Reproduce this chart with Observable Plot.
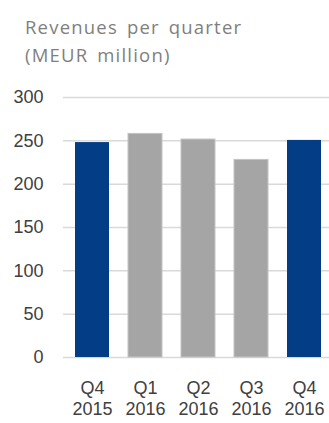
<!DOCTYPE html>
<html>
<head>
<meta charset="utf-8">
<script src="https://cdn.jsdelivr.net/npm/d3@7"></script>
<script src="https://cdn.jsdelivr.net/npm/@observablehq/plot@0.6"></script>
<style>
  html, body { margin: 0; padding: 0; background: #fff; }
  #wrap { width: 329px; height: 423px; position: relative; overflow: hidden; font-family: "Open Sans", sans-serif; }
  #title { position: absolute; left: 25px; top: 13px; font-size: 18.5px; line-height: 28px; color: #7f7f7f; letter-spacing: 1.2px; word-spacing: 3px; white-space: nowrap; }
  #chart { position: absolute; left: 0; top: 75px; }
</style>
</head>
<body>
<div id="wrap">
  <div id="title">Revenues per quarter<br>(MEUR million)</div>
  <div id="chart"></div>
</div>
<script>
const quarters = ["Q4", "Q1", "Q2", "Q3", "Q4"];
const years = ["2015", "2016", "2016", "2016", "2016"];
const revenues = [248, 258, 251.5, 228, 250.5];
const highlighted = [true, false, false, false, true];
const yTicks = [0, 50, 100, 150, 200, 250, 300];

const data = quarters.map((q, i) => ({
  key: q + " " + years[i],
  quarter: q,
  year: years[i],
  value: revenues[i],
  hi: highlighted[i]
}));
const quarterOf = new Map(data.map(d => [d.key, d.quarter]));
const yearOf = new Map(data.map(d => [d.key, d.year]));

const plot = Plot.plot({
  width: 329,
  height: 348,
  marginLeft: 63,
  marginRight: 0,
  marginTop: 22,
  marginBottom: 66,
  style: { fontFamily: "'Liberation Sans', Arial, sans-serif", fontSize: "18px", color: "#404040", background: "#fff" },
  x: { domain: data.map(d => d.key), range: [64.25, 331.75], paddingInner: 0.364, paddingOuter: 0.182, label: null },
  y: { domain: [0, 300], label: null },
  marks: [
    Plot.ruleY(yTicks, { stroke: "#d9d9d9", strokeWidth: 1.5 }),
    Plot.barY(data, {
      x: "key",
      y: "value",
      fill: d => d.hi ? "#033d86" : "#a5a5a5",
      stroke: d => d.hi ? "none" : "#c4c4c4",
      strokeWidth: 1
    }),
    Plot.axisY({ ticks: yTicks, tickSize: 0, tickPadding: 20, label: null, fill: "#404040" }),
    Plot.axisX({ tickSize: 0, tickPadding: 24, label: null, fill: "#404040",
      tickFormat: d => quarterOf.get(d) }),
    Plot.axisX({ tickSize: 0, tickPadding: 45, label: null, fill: "#404040",
      tickFormat: d => yearOf.get(d) })
  ]
});
document.getElementById("chart").appendChild(plot);
</script>
</body>
</html>
